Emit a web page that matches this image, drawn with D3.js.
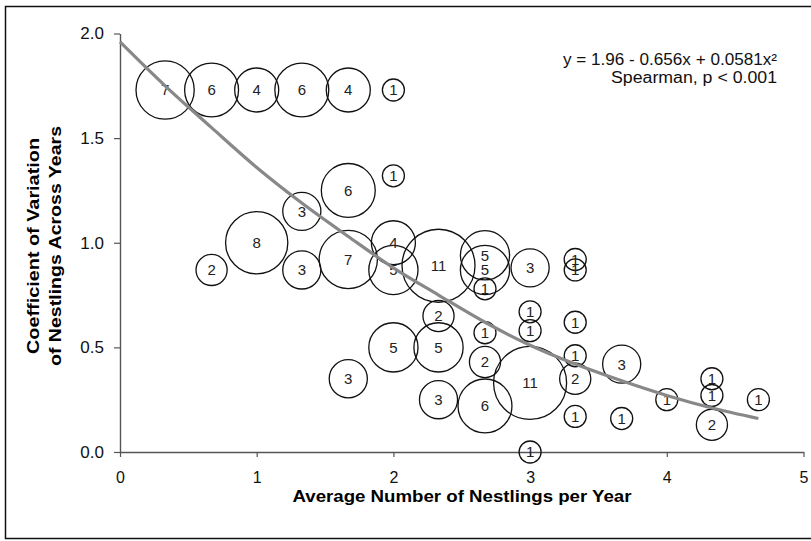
<!DOCTYPE html>
<html>
<head>
<meta charset="utf-8">
<script src="https://cdn.jsdelivr.net/npm/d3@7"></script>
<style>
  body { margin: 0; background: #fff; }
  svg { display: block; font-family: "Liberation Sans", Arial, sans-serif; }
</style>
</head>
<body>
<svg id="chart" width="811" height="541"></svg>
<script>
// one bubble per group of sites: average nestlings, CV across years, number of sites
var avgNestlings = [
  0.33, 0.67, 1, 1.33, 1.67, 2,
  2, 1.67, 1.33, 1, 0.67, 1.33, 1.67, 2, 2, 2.33,
  2.67, 2.67, 2.67, 3, 3.33, 3.33,
  2.33, 2.67, 3, 3, 3.33,
  2, 2.33, 2.67, 1.67, 3, 3.33, 3.33, 3.67,
  2.33, 2.67, 3.33, 3.67, 4, 4.33, 4.33, 4.33, 4.67, 3
];
var cvValues = [
  1.73, 1.73, 1.73, 1.73, 1.73, 1.73,
  1.32, 1.25, 1.15, 1.0, 0.87, 0.87, 0.92, 1.0, 0.87, 0.89,
  0.94, 0.87, 0.78, 0.88, 0.92, 0.87,
  0.65, 0.57, 0.67, 0.58, 0.62,
  0.5, 0.5, 0.43, 0.35, 0.33, 0.46, 0.35, 0.42,
  0.25, 0.22, 0.17, 0.16, 0.25, 0.35, 0.27, 0.13, 0.25, 0
];
var siteCounts = [
  7, 6, 4, 6, 4, 1,
  1, 6, 3, 8, 2, 3, 7, 4, 5, 11,
  5, 5, 1, 3, 1, 1,
  2, 1, 1, 1, 1,
  5, 5, 2, 3, 11, 1, 2, 3,
  3, 6, 1, 1, 1, 1, 1, 2, 1, 1
];

// fitted quadratic, points
var fitX = [0, 0.33, 0.67, 1, 1.33, 1.67, 2, 2.33, 2.67, 3, 3.33, 3.67, 4, 4.33, 4.67];
var fitY = [1.96, 1.75, 1.55, 1.36, 1.19, 1.03, 0.88, 0.75, 0.62, 0.51, 0.42, 0.34, 0.27, 0.21, 0.16];

var xTicks = [0, 1, 2, 3, 4, 5];
var yTicks = [0, 0.5, 1, 1.5, 2];

var svg = d3.select('#chart');

var x = d3.scaleLinear().domain([0, 5]).range([120, 803.5]);
var y = d3.scaleLinear().domain([0, 2]).range([452, 33.5]);
var r = d3.scaleSqrt().domain([0, 11]).range([0, 36.5]);

// frame (right edge falls outside the picture)
svg.append('rect')
  .attr('x', 5.5)
  .attr('y', 6.5)
  .attr('width', 810)
  .attr('height', 532)
  .attr('fill', 'none')
  .attr('stroke', '#111')
  .attr('stroke-width', 1.5);

var xAxis = svg.append('g')
  .attr('transform', 'translate(0,452)')
  .call(d3.axisBottom(x).tickValues(xTicks).tickFormat(d3.format('d'))
    .tickSize(5).tickSizeOuter(0).tickPadding(15));

var yAxis = svg.append('g')
  .attr('transform', 'translate(120,0)')
  .call(d3.axisLeft(y).tickValues(yTicks).tickFormat(d3.format('.1f'))
    .tickSize(6).tickSizeOuter(0).tickPadding(10));

[xAxis, yAxis].forEach(function(g) {
  g.select('.domain').attr('stroke', '#555').attr('stroke-width', 1.4);
  g.selectAll('.tick line').attr('stroke', '#555').attr('stroke-width', 1.2);
  g.selectAll('.tick text')
    .attr('fill', '#111')
    .style('font-family', '"Liberation Sans", Arial, sans-serif');
});
xAxis.selectAll('.tick text').style('font-size', '16px');
yAxis.selectAll('.tick text').style('font-size', '17px');

var points = avgNestlings.map(function(d, i) {
  return { x: d, cv: cvValues[i], n: siteCounts[i] };
});

var bubbles = svg.append('g');

bubbles.selectAll('circle')
  .data(points)
  .enter()
  .append('circle')
  .attr('cx', function(d) { return x(d.x); })
  .attr('cy', function(d) { return y(d.cv); })
  .attr('r', function(d) { return r(d.n); })
  .attr('fill', 'none')
  .attr('stroke', '#111')
  .attr('stroke-width', 1.3);

var fitLine = d3.line()
  .x(function(d, i) { return x(d); })
  .y(function(d, i) { return y(fitY[i]); })
  .curve(d3.curveMonotoneX);

svg.append('path')
  .datum(fitX)
  .attr('d', fitLine)
  .attr('fill', 'none')
  .attr('stroke', '#888')
  .attr('stroke-width', 3.2);

bubbles.selectAll('text')
  .data(points)
  .enter()
  .append('text')
  .attr('x', function(d) { return x(d.x); })
  .attr('y', function(d) { return y(d.cv); })
  .attr('dy', '0.36em')
  .attr('text-anchor', 'middle')
  .attr('fill', '#222')
  .style('font-size', '15px')
  .text(function(d) { return d.n; });

// axis titles
svg.append('text')
  .attr('x', 462)
  .attr('y', 502)
  .attr('text-anchor', 'middle')
  .attr('textLength', 339)
  .attr('lengthAdjust', 'spacingAndGlyphs')
  .style('font-size', '16px')
  .style('font-weight', 'bold')
  .text('Average Number of Nestlings per Year');

var yTitle = svg.append('g')
  .attr('transform', 'translate(0,246) rotate(-90)')
  .attr('text-anchor', 'middle')
  .style('font-size', '16px')
  .style('font-weight', 'bold');

yTitle.append('text').attr('x', 0).attr('y', 39)
  .attr('textLength', 216).attr('lengthAdjust', 'spacingAndGlyphs')
  .text('Coefficient of Variation');
yTitle.append('text').attr('x', 0).attr('y', 61)
  .attr('textLength', 240).attr('lengthAdjust', 'spacingAndGlyphs')
  .text('of Nestlings Across Years');

// equation note
var note = svg.append('g')
  .attr('text-anchor', 'end')
  .style('font-size', '16px')
  .attr('fill', '#111');

note.append('text').attr('x', 777).attr('y', 65)
  .attr('textLength', 214).attr('lengthAdjust', 'spacingAndGlyphs')
  .text('y = 1.96 - 0.656x + 0.0581x\u00b2');
note.append('text').attr('x', 777).attr('y', 83)
  .attr('textLength', 166).attr('lengthAdjust', 'spacingAndGlyphs')
  .text('Spearman, p < 0.001');
</script>
</body>
</html>
